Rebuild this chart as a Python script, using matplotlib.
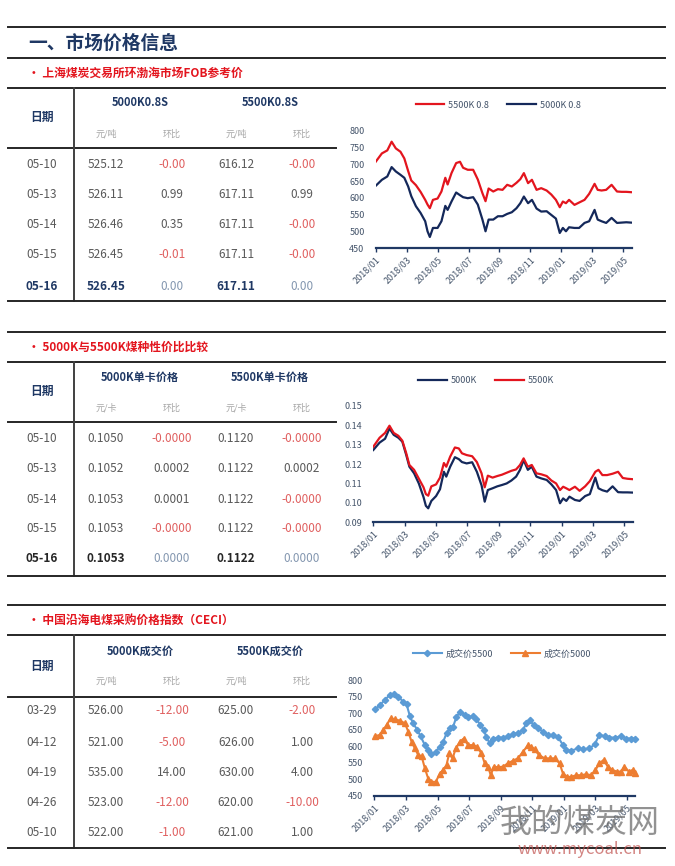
import numpy as np
import matplotlib
matplotlib.use("Agg")
import matplotlib.pyplot as plt
from matplotlib.lines import Line2D

plt.rcParams["font.family"] = ["Noto Sans CJK SC", "DejaVu Sans"]

# ---------------- table data ----------------
fob_dates = ["05-10", "05-13", "05-14", "05-15", "05-16"]
fob_5000 = ["525.12", "526.11", "526.46", "526.45", "526.45"]
fob_5000_chg = ["-0.00", "0.99", "0.35", "-0.01", "0.00"]
fob_5500 = ["616.12", "617.11", "617.11", "617.11", "617.11"]
fob_5500_chg = ["-0.00", "0.99", "-0.00", "-0.00", "0.00"]

kcal_dates = ["05-10", "05-13", "05-14", "05-15", "05-16"]
kcal_5000 = ["0.1050", "0.1052", "0.1053", "0.1053", "0.1053"]
kcal_5000_chg = ["-0.0000", "0.0002", "0.0001", "-0.0000", "0.0000"]
kcal_5500 = ["0.1120", "0.1122", "0.1122", "0.1122", "0.1122"]
kcal_5500_chg = ["-0.0000", "0.0002", "-0.0000", "-0.0000", "0.0000"]

ceci_dates = ["03-29", "04-12", "04-19", "04-26", "05-10"]
ceci_5000 = ["526.00", "521.00", "535.00", "523.00", "522.00"]
ceci_5000_chg = ["-12.00", "-5.00", "14.00", "-12.00", "-1.00"]
ceci_5500 = ["625.00", "626.00", "630.00", "620.00", "621.00"]
ceci_5500_chg = ["-2.00", "1.00", "4.00", "-10.00", "1.00"]

# ---------------- chart data (x = months since 2018/01) ----------------
month_ticks = [0, 2, 4, 6, 8, 10, 12, 14, 16]
month_labels = ["2018/01", "2018/03", "2018/05", "2018/07", "2018/09",
                "2018/11", "2019/01", "2019/03", "2019/05"]

grid_m = [0, 0.4, 0.75, 1.03, 1.3, 1.6, 1.85, 2.1, 2.3, 2.6, 2.9, 3.2, 3.35, 3.5,
          3.7, 4.0, 4.25, 4.5, 4.65, 4.9, 5.2, 5.45, 5.65, 5.95, 6.3, 6.6, 6.9,
          7.1, 7.3, 7.6, 7.9, 8.2, 8.5, 8.8, 9.1, 9.35, 9.58, 9.85, 10.1, 10.4,
          10.7, 11.05, 11.35, 11.65, 11.9, 12.1, 12.3, 12.5, 12.85, 13.15, 13.5,
          13.8, 14.15, 14.35, 14.6, 14.9, 15.25, 15.6, 15.9, 16.2, 16.5]

fob_5500_line = [708, 733, 742, 768, 748, 738, 718, 680, 652, 638, 618, 594, 580, 569,
                 594, 598, 619, 660, 640, 674, 704, 708, 690, 684, 684, 655, 614,
                 590, 628, 619, 626, 624, 639, 634, 645, 656, 674, 644, 654, 624,
                 629, 622, 610, 594, 572, 589, 584, 594, 579, 586, 594,
                 612, 642, 624, 622, 624, 639, 619, 618, 618, 617]
fob_5000_line = [636, 654, 664, 692, 679, 669, 660, 634, 605, 575, 555, 530, 500, 483,
                 510, 510, 530, 576, 564, 589, 616, 608, 602, 599, 602, 580, 535,
                 500, 535, 535, 545, 545, 552, 557, 569, 584, 604, 584, 594, 568,
                 559, 560, 549, 538, 495, 510, 500, 512, 510, 510, 525,
                 530, 564, 535, 530, 525, 540, 525, 526, 527, 526]

kcal_5000_line = [0.1272, 0.1310, 0.1330, 0.1383, 0.1350, 0.1335, 0.1315, 0.1246, 0.1186,
                  0.1152, 0.1100, 0.1030, 0.0985, 0.0972, 0.1010, 0.1035, 0.1070, 0.1160,
                  0.1135, 0.1186, 0.1235, 0.1225, 0.1210, 0.1203, 0.1209, 0.1160, 0.1090,
                  0.1006, 0.1066, 0.1075, 0.1085, 0.1092, 0.1100, 0.1115, 0.1135, 0.1170,
                  0.1220, 0.1170, 0.1186, 0.1135, 0.1126, 0.1118, 0.1095, 0.1066, 0.0998,
                  0.1023, 0.1010, 0.1032, 0.1015, 0.1010, 0.1035, 0.1045, 0.1130, 0.1075,
                  0.1065, 0.1058, 0.1085, 0.1055, 0.1054, 0.1054, 0.1053]
kcal_5500_line = [0.1289, 0.1335, 0.1360, 0.1397, 0.1360, 0.1345, 0.1320, 0.1255, 0.1195,
                  0.1170, 0.1125, 0.1080, 0.1045, 0.1037, 0.1085, 0.1095, 0.1130, 0.1205,
                  0.1186, 0.1238, 0.1285, 0.1280, 0.1255, 0.1246, 0.1240, 0.1210, 0.1152,
                  0.1080, 0.1140, 0.1130, 0.1138, 0.1145, 0.1155, 0.1165, 0.1172, 0.1195,
                  0.1229, 0.1186, 0.1195, 0.1152, 0.1147, 0.1138, 0.1115, 0.1100, 0.1066,
                  0.1083, 0.1075, 0.1066, 0.1083, 0.1062, 0.1085, 0.1112, 0.1160, 0.1170,
                  0.1143, 0.1143, 0.1150, 0.1160, 0.1128, 0.1124, 0.1122]

ceci_5500_m = [0.04, 0.36, 0.67, 0.99, 1.24, 1.52, 1.83, 2.04, 2.25, 2.46, 2.72, 2.93,
               3.2, 3.41, 3.62, 3.89, 4.15, 4.36, 4.57, 4.78, 4.99, 5.2, 5.45, 5.73,
               5.94, 6.25, 6.46, 6.72, 6.93, 7.09, 7.31, 7.52, 7.83, 8.15, 8.46, 8.78,
               9.09, 9.41, 9.62, 9.83, 10.08, 10.36, 10.67, 10.99, 11.31, 11.62, 11.94,
               12.15, 12.46, 12.88, 13.2, 13.62, 13.94, 14.25, 14.57, 14.88, 15.26,
               15.62, 15.94, 16.25, 16.5]
ceci_5500_line = [711, 724, 740, 755, 757, 750, 734, 727, 691, 669, 649, 630,
                  603, 588, 575, 583, 598, 613, 639, 654, 659, 689, 704, 694,
                  687, 691, 681, 664, 649, 628, 608, 623, 626, 626, 630, 637,
                  639, 649, 669, 679, 664, 654, 644, 634, 634, 628, 603,
                  588, 586, 593, 590, 593, 605, 634, 630, 626, 626,
                  630, 623, 623, 623]
ceci_5000_m = [0.04, 0.36, 0.57, 0.78, 1.03, 1.31, 1.62, 1.94, 2.15, 2.36, 2.57, 2.78,
               2.99, 3.2, 3.41, 3.62, 3.89, 4.15, 4.36, 4.57, 4.74, 4.95, 5.16, 5.41,
               5.66, 5.94, 6.25, 6.51, 6.78, 6.99, 7.2, 7.37, 7.56, 7.83, 8.15, 8.46,
               8.78, 9.09, 9.41, 9.73, 9.94, 10.15, 10.42, 10.78, 11.09, 11.41, 11.73,
               11.94, 12.19, 12.46, 12.78, 13.09, 13.41, 13.73, 14.0, 14.25, 14.51,
               14.78, 15.05, 15.35, 15.62, 15.83, 16.11, 16.36, 16.5]
ceci_5000_line = [630, 634, 649, 664, 684, 681, 677, 669, 644, 613, 593, 573,
                  570, 533, 502, 492, 492, 517, 528, 543, 578, 563, 593, 613,
                  623, 603, 603, 598, 578, 548, 538, 512, 538, 536, 538, 548,
                  556, 563, 583, 603, 598, 590, 573, 563, 563, 563, 548,
                  517, 507, 507, 512, 512, 515, 512, 528, 548, 558,
                  538, 528, 523, 523, 538, 523, 528, 520]

# ---------------- style ----------------
W, H = 675, 866
NAVY = "#1F3864"
LINE_NAVY = "#14285A"
RED = "#E3151E"
SOFT_RED = "#E06060"
GRAY = "#595959"
LIGHT = "#A6A6A6"
BLUEGRAY = "#8497B0"
TICK = "#44546A"

fig = plt.figure(figsize=(W / 100, H / 100), dpi=100)
fig.patch.set_facecolor("white")


def fx(x):
    return x / W


def fy(y):
    return 1 - y / H


def hline(y, x0=8, x1=665, lw=1.4, color="#262626"):
    fig.add_artist(Line2D([fx(x0), fx(x1)], [fy(y), fy(y)], lw=lw, color=color))


def vline(x, y0, y1, lw=1.4, color="#404040"):
    fig.add_artist(Line2D([fx(x), fx(x)], [fy(y0), fy(y1)], lw=lw, color=color))


def put(x, y, s, **kw):
    kw.setdefault("ha", "center")
    kw.setdefault("va", "center")
    fig.text(fx(x), fy(y), s, **kw)


def draw_table(top, subtitle, head_y, date_y, sub_y, mid, rows_y, bottom,
               heads, unit, dates, price_a, chg_a, price_b, chg_b, last_color=None):
    hline(top)
    put(28, top + 15, "• " + subtitle, ha="left",
        color=RED, fontsize=8.5, fontweight="bold")
    hline(top + 30)
    put(42, date_y, "日期", color=NAVY, fontsize=8.5, fontweight="bold")
    put(140, head_y, heads[0], color=NAVY, fontsize=8, fontweight="bold")
    put(270, head_y, heads[1], color=NAVY, fontsize=8, fontweight="bold")
    for x, s in zip([106, 172, 236, 302], [unit, "环比", unit, "环比"]):
        put(x, sub_y, s, color=LIGHT, fontsize=6.5)
    hline(mid, x1=336)
    vline(74, top + 30, bottom)
    hline(bottom)

    n = len(dates)
    for i in range(n):
        y = rows_y[i]
        last = (i == n - 1) and last_color is not None
        main_kw = dict(fontsize=8.5, color=GRAY)
        if last:
            main_kw = dict(fontsize=8.5, color=last_color, fontweight="bold")
        put(42, y, dates[i], **main_kw)
        put(106, y, price_a[i], **main_kw)
        put(236, y, price_b[i], **main_kw)
        for x, v in [(172, chg_a[i]), (302, chg_b[i])]:
            if v.startswith("-"):
                c = SOFT_RED
            elif last:
                c = BLUEGRAY
            else:
                c = GRAY
            put(x, y, v, fontsize=8.5, color=c)


def make_chart(left, right, top, bottom, xmax, ylim, yticks, ylabels):
    ax = fig.add_axes([fx(left), fy(bottom), (right - left) / W, (bottom - top) / H])
    ax.set_xlim(0, xmax)
    ax.set_ylim(*ylim)
    for side in ["top", "right", "left"]:
        ax.spines[side].set_visible(False)
    ax.spines["bottom"].set_color(NAVY)
    ax.spines["bottom"].set_linewidth(1.6)
    ax.set_xticks(month_ticks)
    ax.set_xticklabels(month_labels, rotation=45, ha="right", rotation_mode="anchor")
    ax.set_yticks(yticks)
    ax.set_yticklabels(ylabels)
    ax.tick_params(axis="x", direction="out", length=3, width=1, color=NAVY,
                   labelsize=6.5, labelcolor=TICK, pad=2)
    ax.tick_params(axis="y", length=0, labelsize=6.5, labelcolor=TICK, pad=8)
    ax.patch.set_alpha(0)
    return ax


def main():
    # title block
    hline(27)
    put(28, 43, "一、市场价格信息", ha="left", color=NAVY, fontsize=13.5, fontweight="bold")

    # ---- section 1 ----
    draw_table(58, "上海煤炭交易所环渤海市场FOB参考价", 103, 117, 134, 148,
               [164, 195, 225, 255, 286], 301, ["5000K0.8S", "5500K0.8S"], "元/吨",
               fob_dates, fob_5000, fob_5000_chg, fob_5500, fob_5500_chg, last_color=NAVY)
    ax1 = make_chart(375.7, 631.7, 131, 248, 16.55, (450, 800),
                     np.arange(450, 801, 50), [str(v) for v in range(450, 801, 50)])
    ax1.plot(grid_m, fob_5500_line, color=RED, lw=1.6, label="5500K 0.8")
    ax1.plot(grid_m, fob_5000_line, color=LINE_NAVY, lw=1.6, label="5000K 0.8")
    ax1.legend(loc="center", bbox_to_anchor=(fx(498), fy(105)), bbox_transform=fig.transFigure,
               ncol=2, frameon=False, fontsize=6.5, handlelength=3.2, columnspacing=2.0,
               handletextpad=0.4, labelcolor=TICK)

    # ---- section 2 ----
    draw_table(332, "5000K与5500K煤种性价比比较", 377, 391, 408, 422,
               [438, 468, 499, 529, 559], 576, ["5000K单卡价格", "5500K单卡价格"], "元/卡",
               kcal_dates, kcal_5000, kcal_5000_chg, kcal_5500, kcal_5500_chg,
               last_color="#262626")
    ax2 = make_chart(373.3, 633.3, 405.7, 522.3, 16.57, (0.09, 0.15),
                     np.arange(0.09, 0.1501, 0.01), ["%.2f" % v for v in np.arange(0.09, 0.1501, 0.01)])
    ax2.plot(grid_m, kcal_5000_line, color=LINE_NAVY, lw=1.6, label="5000K")
    ax2.plot(grid_m, kcal_5500_line, color=RED, lw=1.6, label="5500K")
    ax2.legend(loc="center", bbox_to_anchor=(fx(486), fy(381)), bbox_transform=fig.transFigure,
               ncol=2, frameon=False, fontsize=6.5, handlelength=3.2, columnspacing=2.0,
               handletextpad=0.4, labelcolor=TICK)

    # ---- section 3 ----
    draw_table(605, "中国沿海电煤采购价格指数（CECI）", 651, 666, 681, 697,
               [711, 742, 772, 803, 833], 848, ["5000K成交价", "5500K成交价"], "元/吨",
               ceci_dates, ceci_5000, ceci_5000_chg, ceci_5500, ceci_5500_chg)
    ax3 = make_chart(374.3, 635, 680, 795.7, 16.5, (450, 800),
                     np.arange(450, 801, 50), [str(v) for v in range(450, 801, 50)])
    ax3.plot(ceci_5500_m, ceci_5500_line, color="#5B9BD5", lw=1.5, marker="D",
             markersize=3.2, label="成交价5500", clip_on=False)
    ax3.plot(ceci_5000_m, ceci_5000_line, color="#ED7D31", lw=1.5, marker="^",
             markersize=4, label="成交价5000", clip_on=False)
    ax3.legend(loc="center", bbox_to_anchor=(fx(502), fy(654)), bbox_transform=fig.transFigure,
               ncol=2, frameon=False, fontsize=6.5, handlelength=3.2, columnspacing=2.0,
               handletextpad=0.4, labelcolor=TICK)

    # watermark
    put(580, 823, "我的煤炭网", color="#6E6E6E", fontsize=23, alpha=0.75)
    put(580, 849, "www.mycoal.cn", color="#C0504D", fontsize=12, alpha=0.7)

    fig.savefig("out.png", dpi=100, facecolor="white")


if __name__ == "__main__":
    main()
